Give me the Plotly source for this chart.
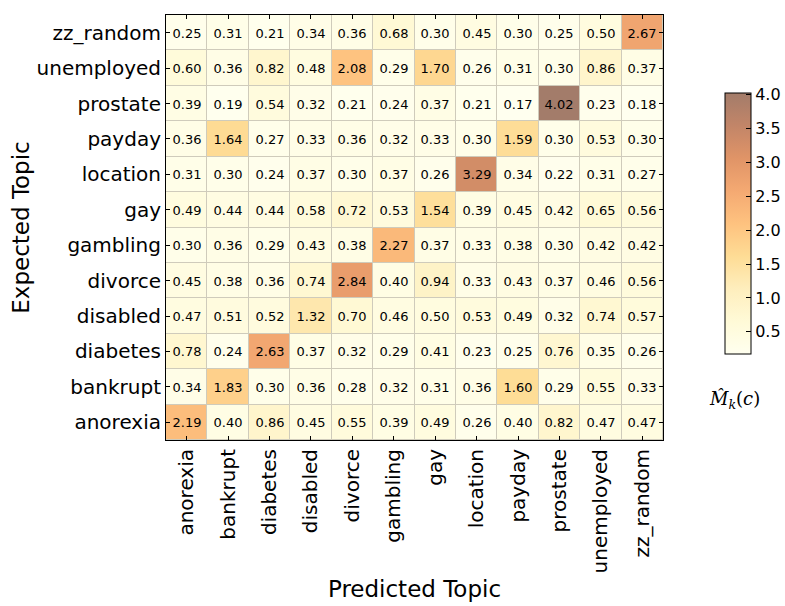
import plotly.graph_objects as go

topics = ["anorexia", "bankrupt", "diabetes", "disabled", "divorce", "gambling",
          "gay", "location", "payday", "prostate", "unemployed", "zz_random"]

# rows: expected topic (bottom to top), columns: predicted topic
row_anorexia   = [2.19, 0.40, 0.86, 0.45, 0.55, 0.39, 0.49, 0.26, 0.40, 0.82, 0.47, 0.47]
row_bankrupt   = [0.34, 1.83, 0.30, 0.36, 0.28, 0.32, 0.31, 0.36, 1.60, 0.29, 0.55, 0.33]
row_diabetes   = [0.78, 0.24, 2.63, 0.37, 0.32, 0.29, 0.41, 0.23, 0.25, 0.76, 0.35, 0.26]
row_disabled   = [0.47, 0.51, 0.52, 1.32, 0.70, 0.46, 0.50, 0.53, 0.49, 0.32, 0.74, 0.57]
row_divorce    = [0.45, 0.38, 0.36, 0.74, 2.84, 0.40, 0.94, 0.33, 0.43, 0.37, 0.46, 0.56]
row_gambling   = [0.30, 0.36, 0.29, 0.43, 0.38, 2.27, 0.37, 0.33, 0.38, 0.30, 0.42, 0.42]
row_gay        = [0.49, 0.44, 0.44, 0.58, 0.72, 0.53, 1.54, 0.39, 0.45, 0.42, 0.65, 0.56]
row_location   = [0.31, 0.30, 0.24, 0.37, 0.30, 0.37, 0.26, 3.29, 0.34, 0.22, 0.31, 0.27]
row_payday     = [0.36, 1.64, 0.27, 0.33, 0.36, 0.32, 0.33, 0.30, 1.59, 0.30, 0.53, 0.30]
row_prostate   = [0.39, 0.19, 0.54, 0.32, 0.21, 0.24, 0.37, 0.21, 0.17, 4.02, 0.23, 0.18]
row_unemployed = [0.60, 0.36, 0.82, 0.48, 2.08, 0.29, 1.70, 0.26, 0.31, 0.30, 0.86, 0.37]
row_zz_random  = [0.25, 0.31, 0.21, 0.34, 0.36, 0.68, 0.30, 0.45, 0.30, 0.25, 0.50, 2.67]

z = [row_anorexia, row_bankrupt, row_diabetes, row_disabled, row_divorce, row_gambling,
     row_gay, row_location, row_payday, row_prostate, row_unemployed, row_zz_random]

colorbar_ticks = [0.5, 1.0, 1.5, 2.0, 2.5, 3.0, 3.5, 4.0]

# matplotlib YlOrBr blended with white at alpha 0.6
base = ["#ffffe5", "#fff7bc", "#fee391", "#fec44f", "#fe9929",
        "#ec7014", "#cc4c02", "#993404", "#662506"]
alpha = 0.6
def blend(h):
    r, g, b = int(h[1:3], 16), int(h[3:5], 16), int(h[5:7], 16)
    f = lambda c: round(alpha * c + (1 - alpha) * 255)
    return f"rgb({f(r)},{f(g)},{f(b)})"
colorscale = [[i / (len(base) - 1), blend(c)] for i, c in enumerate(base)]

idx = list(range(len(topics)))

fig = go.Figure(go.Heatmap(
    z=z, x=idx, y=idx,
    zmin=0.17, zmax=4.02,
    colorscale=colorscale,
    xgap=1, ygap=1,
    texttemplate="%{z:.2f}",
    textfont=dict(family="DejaVu Sans", size=13, color="black"),
    hoverinfo="skip",
    colorbar=dict(
        x=1.125, xanchor="left", xpad=0, y=0.509, yanchor="middle", ypad=0,
        len=0.614, lenmode="fraction", thickness=26,
        outlinecolor="black", outlinewidth=1,
        tickvals=colorbar_ticks,
        ticktext=[f"{v:.1f}" for v in colorbar_ticks],
        ticks="inside", ticklen=5, tickcolor="black",
        tickfont=dict(family="DejaVu Sans", size=16, color="black"),
    ),
))

axis_common = dict(
    showline=True, linecolor="black", linewidth=1, mirror="allticks",
    ticks="inside", ticklen=4, tickcolor="black", showgrid=False, zeroline=False,
    tickfont=dict(family="DejaVu Sans", size=20, color="black"),
    tickvals=idx, ticktext=topics, range=[-0.5, 11.5], automargin=False,
)

fig.update_xaxes(**axis_common, tickangle=-90,
                 title=dict(text="Predicted Topic", standoff=8,
                            font=dict(family="DejaVu Sans", size=23, color="black")))
fig.update_yaxes(**axis_common,
                 title=dict(text="Expected Topic", standoff=0,
                            font=dict(family="DejaVu Sans", size=23, color="black")))

fig.add_annotation(
    text="<i>M̂</i><sub><i>k</i></sub>(<i>c</i>)",
    xref="paper", yref="paper", x=1.2, y=0.062, showarrow=False,
    font=dict(family="DejaVu Serif", size=18, color="black"),
)

fig.update_layout(
    width=785, height=606,
    margin=dict(l=166, r=122, t=15, b=166, autoexpand=False),
    paper_bgcolor="white", plot_bgcolor="#cfcbbb",
)

fig.write_html("out.html", config={"displayModeBar": False},
               post_script="document.body.style.margin='0px';")
